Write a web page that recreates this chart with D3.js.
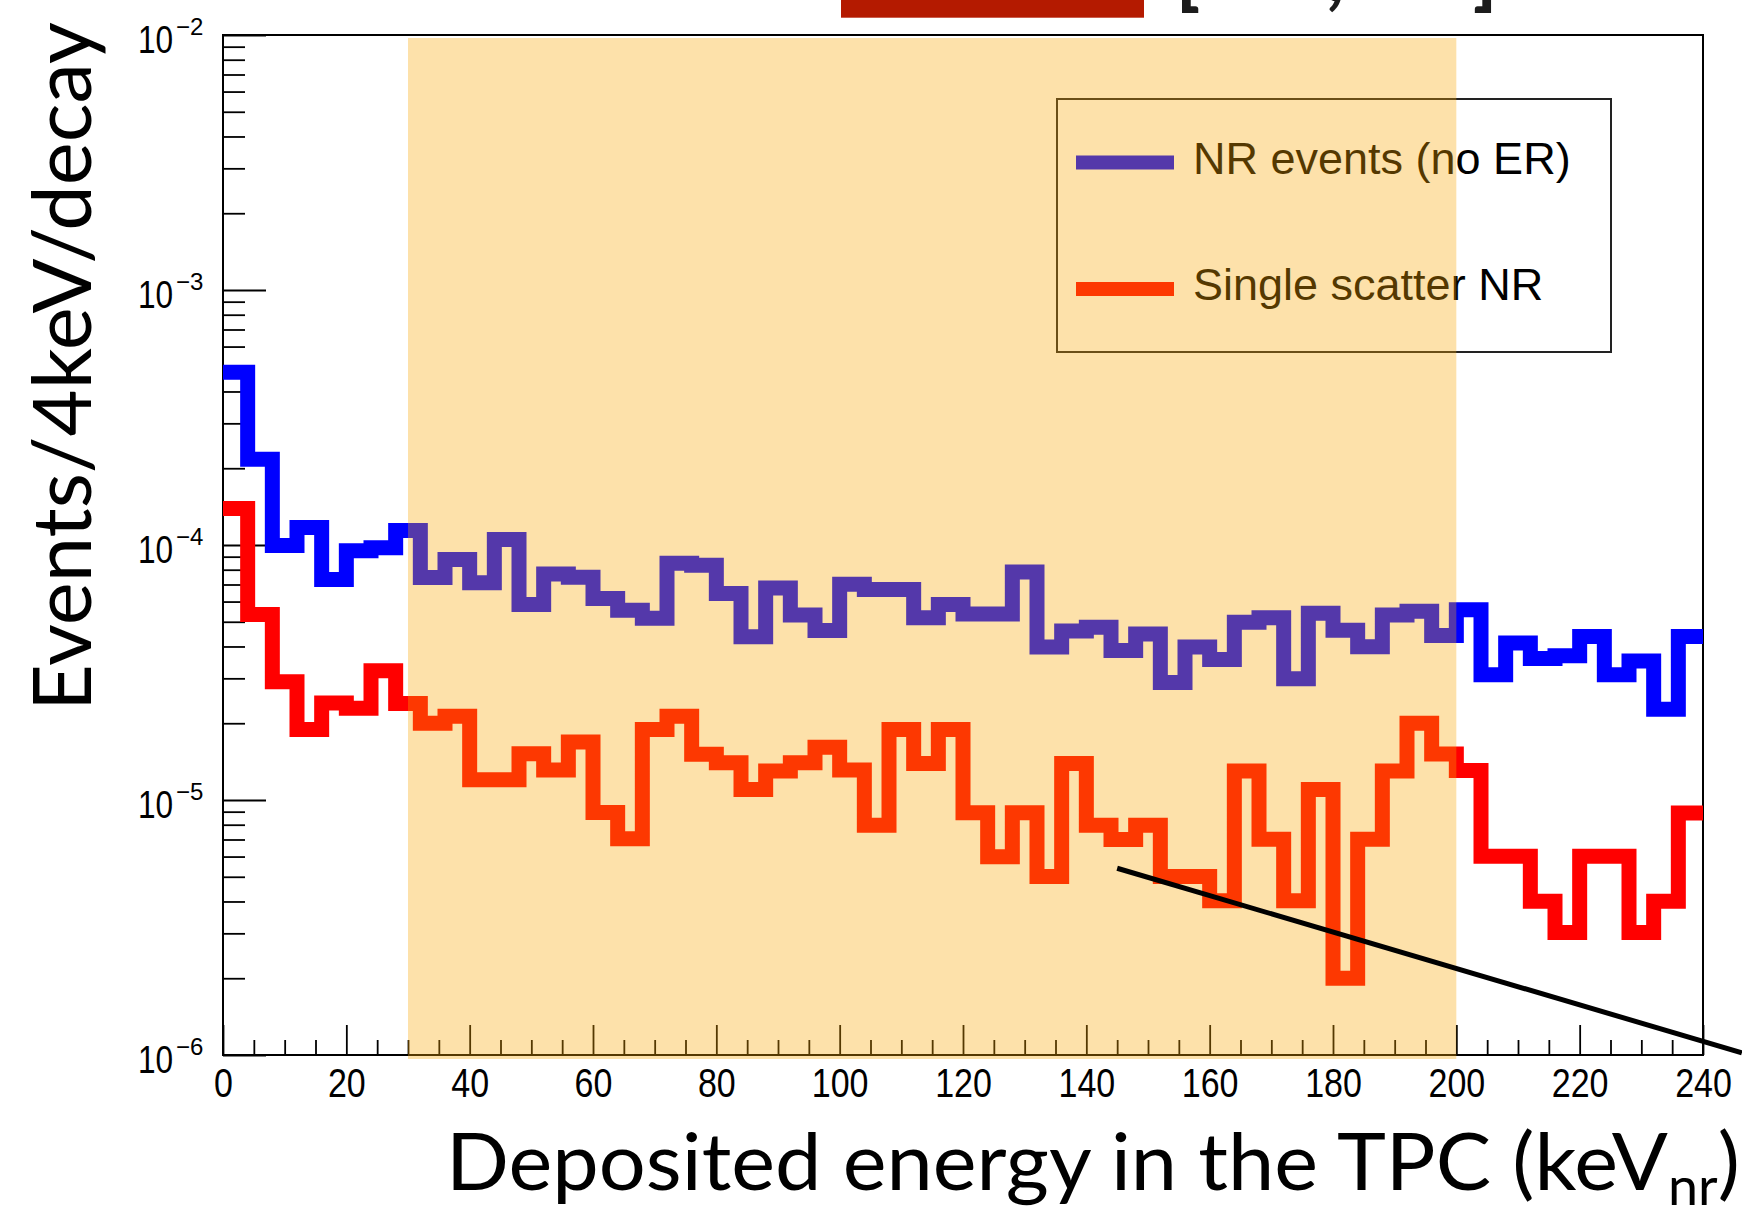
<!DOCTYPE html>
<html>
<head>
<meta charset="utf-8">
<script src="https://cdn.jsdelivr.net/npm/d3@7"></script>
<style>
  body { margin: 0; background: #fff; }
  svg { display: block; }
</style>
</head>
<body>
<div id="chart"></div>
<script>
// 4 keV bins from 0 to 240 keV
var binEdges = d3.range(0, 244, 4);

// Events/4keV/decay, one value per bin
var nrEvents = [
  4.76e-4, 2.17e-4, 9.95e-5, 1.17e-4, 7.32e-5, 9.49e-5, 9.75e-5, 1.14e-4, 7.46e-5, 8.77e-5,
  7.11e-5, 1.05e-4, 5.84e-5, 7.70e-5, 7.48e-5, 6.17e-5, 5.55e-5, 5.16e-5, 8.49e-5, 8.33e-5,
  6.45e-5, 4.37e-5, 6.78e-5, 5.32e-5, 4.62e-5, 7.02e-5, 6.69e-5, 6.69e-5, 5.18e-5, 5.84e-5,
  5.36e-5, 5.36e-5, 7.83e-5, 3.98e-5, 4.60e-5, 4.76e-5, 3.86e-5, 4.48e-5, 2.89e-5, 3.98e-5,
  3.56e-5, 4.98e-5, 5.18e-5, 2.99e-5, 5.40e-5, 4.63e-5, 3.99e-5, 5.31e-5, 5.50e-5, 4.42e-5,
  5.57e-5, 3.10e-5, 4.13e-5, 3.59e-5, 3.68e-5, 4.38e-5, 3.10e-5, 3.51e-5, 2.27e-5, 4.38e-5
];
var singleScatter = [
  1.39e-4, 5.34e-5, 2.91e-5, 1.89e-5, 2.40e-5, 2.29e-5, 3.21e-5, 2.39e-5, 2.00e-5, 2.13e-5,
  1.20e-5, 1.20e-5, 1.52e-5, 1.31e-5, 1.69e-5, 8.93e-6, 7.05e-6, 1.89e-5, 2.13e-5, 1.51e-5,
  1.40e-5, 1.10e-5, 1.30e-5, 1.40e-5, 1.61e-5, 1.31e-5, 7.96e-6, 1.89e-5, 1.39e-5, 1.89e-5,
  8.92e-6, 5.99e-6, 8.92e-6, 5.01e-6, 1.39e-5, 7.96e-6, 7.00e-6, 7.96e-6, 5.01e-6, 5.01e-6,
  4.03e-6, 1.30e-5, 7.02e-6, 4.03e-6, 1.10e-5, 2.00e-6, 7.02e-6, 1.30e-5, 2.00e-5, 1.515e-5,
  1.305e-5, 6.02e-6, 6.02e-6, 4.01e-6, 3.02e-6, 6.02e-6, 6.02e-6, 3.02e-6, 4.01e-6, 8.90e-6
];
var seriesNames = ["NR events (no ER)", "Single scatter NR"];
var seriesColors = ["#0000ff", "#ff0000"];

var xTicks = d3.range(0, 241, 20);
var xMinorTicks = d3.range(0, 241, 5).filter(function(v) { return v % 20 !== 0; });
var yDecades = [-2, -3, -4, -5, -6];
var roi = [30, 200];
// annotation line pasted over the plot (keV, events)
var pointerLine = [[145, 5.4e-6], [246.3, 1.02e-6]];

var svgWidth = 1742;
var svgHeight = 1210;
var margin = {top: 35, right: 39, bottom: 155, left: 223};
var width = svgWidth - margin.left - margin.right;
var height = svgHeight - margin.top - margin.bottom;

var tickFont = "'Liberation Sans', Arial, Helvetica, sans-serif";
var titleFont = "Lato, 'Open Sans', sans-serif";

var svg = d3.select("#chart")
  .append("svg")
  .attr("width", svgWidth)
  .attr("height", svgHeight);

svg.append("rect")
  .attr("width", svgWidth)
  .attr("height", svgHeight)
  .attr("fill", "#fff");

// bits of the slide title cut off at the top
svg.append("rect")
  .attr("x", 841).attr("y", 0)
  .attr("width", 303).attr("height", 17.7)
  .attr("fill", "#b41a00");
var topGlyphs = [["[", 1188], [",", 1335], ["]", 1485]];
svg.selectAll(".top-glyph")
  .data(topGlyphs)
  .join("text")
  .attr("class", "top-glyph")
  .attr("x", function(d) { return d[1]; })
  .attr("y", 0.5)
  .attr("text-anchor", "middle")
  .attr("font-family", titleFont)
  .attr("font-weight", 900)
  .attr("font-size", 76)
  .attr("fill", "#1c1c1c")
  .text(function(d) { return d[0]; });

var plot = svg.append("g")
  .attr("transform", `translate(${margin.left}, ${margin.top})`);

var x = d3.scaleLinear().domain([0, 240]).range([0, width]);
var y = d3.scaleLog().domain([1e-6, 1e-2]).range([height, 0]);

plot.append("rect")
  .attr("width", width)
  .attr("height", height)
  .attr("fill", "#fff");

// x axis, ticks pointing up into the frame
var xAxis = plot.append("g")
  .attr("transform", `translate(0, ${height})`)
  .call(d3.axisBottom(x).tickValues(xTicks).tickSize(-30).tickSizeOuter(0).tickPadding(14));
var xMinor = plot.append("g")
  .attr("transform", `translate(0, ${height})`)
  .call(d3.axisBottom(x).tickValues(xMinorTicks).tickSize(-15).tickSizeOuter(0).tickFormat(""));

xAxis.selectAll("text")
  .attr("font-family", tickFont)
  .attr("font-size", 40)
  .attr("fill", "#000")
  .attr("transform", "scale(0.85,1)");

// y axis, log decades with 2..9 minor ticks
var yMinorTicks = [];
[-6, -5, -4, -3].forEach(function(k) {
  d3.range(2, 10).forEach(function(m) { yMinorTicks.push(m * Math.pow(10, k)); });
});
var yAxis = plot.append("g")
  .call(d3.axisLeft(y).tickValues(yDecades.map(function(d) { return Math.pow(10, d); }))
    .tickSize(-43).tickSizeOuter(0).tickFormat(""));
var yMinor = plot.append("g")
  .call(d3.axisLeft(y).tickValues(yMinorTicks).tickSize(-22).tickSizeOuter(0).tickFormat(""));

[xAxis, xMinor, yAxis, yMinor].forEach(function(a) {
  a.select(".domain").remove();
  a.selectAll("line").attr("stroke", "#000").attr("stroke-width", 1.8);
});

var yLabels = plot.append("g")
  .selectAll("g")
  .data(yDecades)
  .join("g")
  .attr("transform", function(d) { return `translate(0, ${y(Math.pow(10, d))})`; });
yLabels.append("text")
  .attr("text-anchor", "end")
  .attr("transform", "translate(-50, 18) scale(0.81, 1)")
  .attr("font-family", tickFont)
  .attr("font-size", 39)
  .attr("fill", "#000")
  .text("10");
yLabels.append("text")
  .attr("transform", "translate(-47, 0)")
  .attr("font-family", tickFont)
  .attr("font-size", 24)
  .attr("fill", "#000")
  .text(function(d) { return "\u2212" + Math.abs(d); });

// frame
plot.append("rect")
  .attr("width", width)
  .attr("height", height)
  .attr("fill", "none")
  .attr("stroke", "#000")
  .attr("stroke-width", 2);

// histograms drawn as step outlines
function stepPoints(vals) {
  var pts = vals.map(function(v, i) { return [binEdges[i], v]; });
  pts.push([binEdges[vals.length], vals[vals.length - 1]]);
  return pts;
}
var stepLine = d3.line()
  .x(function(d) { return x(d[0]); })
  .y(function(d) { return y(d[1]); })
  .curve(d3.curveStepAfter);

[nrEvents, singleScatter].forEach(function(vals, i) {
  plot.append("path")
    .datum(stepPoints(vals))
    .attr("d", stepLine)
    .attr("fill", "none")
    .attr("stroke", seriesColors[i])
    .attr("stroke-width", 15)
    .attr("stroke-linejoin", "miter");
});

// legend
var legend = svg.append("g").attr("transform", "translate(1057, 99)");
legend.append("rect")
  .attr("width", 554)
  .attr("height", 253)
  .attr("fill", "#fff")
  .attr("stroke", "#222")
  .attr("stroke-width", 2);
var legendRows = legend.selectAll(".row")
  .data(seriesNames)
  .join("g")
  .attr("class", "row")
  .attr("transform", function(d, i) { return `translate(0, ${63.5 + i * 126.5})`; });
legendRows.append("line")
  .attr("x1", 19).attr("x2", 117)
  .attr("stroke", function(d, i) { return seriesColors[i]; })
  .attr("stroke-width", 14);
legendRows.append("text")
  .attr("x", 136)
  .attr("y", 11)
  .attr("font-family", tickFont)
  .attr("font-size", 45)
  .attr("fill", "#000")
  .text(function(d) { return d; });

// shaded energy window, laid over everything incl. the legend
var overlay = svg.append("g")
  .attr("transform", `translate(${margin.left}, ${margin.top})`);

overlay.append("rect")
  .attr("x", x(roi[0]))
  .attr("y", 3)
  .attr("width", x(roi[1]) - x(roi[0]))
  .attr("height", height + 1)
  .attr("fill", "rgb(249,166,3)")
  .attr("fill-opacity", 0.337);

overlay.append("line")
  .attr("x1", x(pointerLine[0][0])).attr("y1", y(pointerLine[0][1]))
  .attr("x2", x(pointerLine[1][0])).attr("y2", y(pointerLine[1][1]))
  .attr("stroke", "#000")
  .attr("stroke-width", 5);

// axis titles
var yTitle = svg.append("text")
  .attr("font-family", titleFont)
  .attr("font-size", 82)
  .attr("fill", "#000")
  .text("Events/4keV/decay");
var yTitleLen = yTitle.node().getComputedTextLength();
yTitle.attr("transform", `translate(91, 711) rotate(-90) scale(${689 / yTitleLen}, 1)`);

var xTitle = svg.append("text")
  .attr("font-family", titleFont)
  .attr("font-size", 80)
  .attr("fill", "#000");
xTitle.append("tspan").text("Deposited energy in the TPC (keV");
xTitle.append("tspan").attr("font-size", 52).attr("dy", 15).text("nr");
xTitle.append("tspan").attr("dy", -15).text(")");
var xTitleLen = xTitle.node().getComputedTextLength();
xTitle.attr("transform", `translate(446, 1190) scale(${1294 / xTitleLen}, 1)`);
</script>
</body>
</html>
